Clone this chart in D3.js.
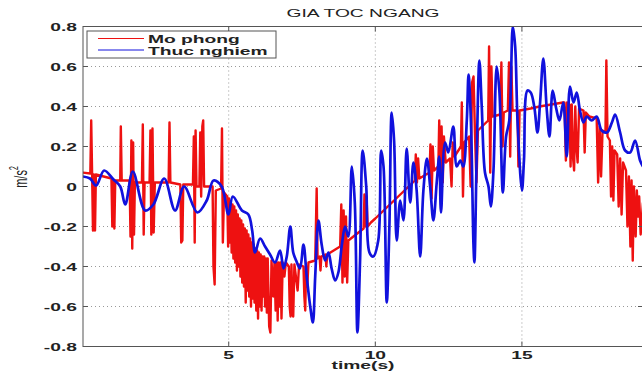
<!DOCTYPE html>
<html>
<head>
<meta charset="utf-8">
<script src="https://cdn.jsdelivr.net/npm/d3@7"></script>
<style>
  html, body { margin: 0; padding: 0; background: #fff; }
  svg { display: block; }
  text { font-family: "Liberation Sans", Arial, sans-serif; fill: #222; }
</style>
</head>
<body>
<div id="chart"></div>
<script>
// chart values
const title = "GIA TOC NGANG";
const xLabel = "time(s)";
const seriesNames = ["Mo phong", "Thuc nghiem"];
const xTicks = [5, 10, 15];
const yTicks = [-0.8, -0.6, -0.4, -0.2, 0, 0.2, 0.4, 0.6, 0.8];
const yTickLabels = ["-0.8", "-0.6", "-0.4", "-0.2", "0", "0.2", "0.4", "0.6", "0.8"];

// Mo phong (simulation): [time, value], baseline with spikes
const moPhong = [
  [0.00, 0.07], [0.28, 0.065], [0.31, 0.33], [0.34, 0.07], [0.37, -0.22], [0.40, 0.06], [0.44, -0.22], [0.47, 0.06],
  [1.00, 0.04], [1.03, -0.20], [1.06, 0.035], [1.10, -0.21], [1.13, 0.03], [1.30, 0.03], [1.32, 0.30], [1.35, 0.03],
  [1.62, 0.03], [1.65, -0.25], [1.68, 0.23], [1.71, -0.31], [1.74, 0.22], [1.77, -0.24], [1.80, 0.02],
  [2.04, 0.02], [2.07, 0.31], [2.10, -0.24], [2.13, 0.02], [2.30, 0.02], [2.33, 0.28], [2.36, -0.24], [2.40, 0.29],
  [2.44, -0.23], [2.48, 0.02], [2.95, 0.02], [2.98, 0.32], [3.01, 0.02], [3.35, 0.01], [3.38, -0.28], [3.42, -0.27],
  [3.45, 0.01], [3.78, 0.01], [3.81, 0.25], [3.84, -0.28], [3.87, 0.28], [3.90, 0.0], [4.00, 0.0], [4.03, 0.27],
  [4.06, -0.05], [4.10, 0.30], [4.13, 0.33], [4.16, 0.0], [4.45, 0.0], [4.48, -0.40], [4.52, -0.49], [4.56, -0.02],
  [4.74, -0.01], [4.77, 0.29], [4.80, -0.28], [4.84, -0.03],
  [4.95, -0.05], [4.98, -0.30], [5.01, -0.06], [5.04, -0.28], [5.07, -0.08], [5.10, -0.33], [5.13, -0.09], [5.16, -0.36],
  [5.19, -0.10], [5.22, -0.38], [5.25, -0.12], [5.28, -0.42], [5.31, -0.14], [5.34, -0.40], [5.37, -0.16], [5.40, -0.45],
  [5.43, -0.17], [5.46, -0.48], [5.49, -0.19], [5.52, -0.50], [5.55, -0.21], [5.58, -0.58], [5.61, -0.22], [5.64, -0.52],
  [5.67, -0.24], [5.70, -0.55], [5.73, -0.26], [5.76, -0.60], [5.79, -0.28], [5.82, -0.56], [5.85, -0.29], [5.88, -0.58],
  [5.91, -0.31], [5.94, -0.62], [5.97, -0.32], [6.00, -0.66], [6.03, -0.33], [6.06, -0.60], [6.09, -0.34], [6.12, -0.62],
  [6.15, -0.35], [6.18, -0.55], [6.21, -0.35], [6.24, -0.60], [6.27, -0.36], [6.30, -0.63], [6.33, -0.36], [6.38, -0.70],
  [6.42, -0.73], [6.46, -0.37], [6.52, -0.55], [6.56, -0.38], [6.60, -0.62], [6.64, -0.38], [6.67, -0.67], [6.70, -0.38],
  [6.74, -0.60], [6.77, -0.38], [6.80, -0.66], [6.84, -0.38], [6.90, -0.45], [6.95, -0.38], [7.05, -0.40], [7.08, -0.60],
  [7.11, -0.65], [7.14, -0.39], [7.17, -0.62], [7.20, -0.65], [7.24, -0.39], [7.35, -0.52], [7.40, -0.39], [7.55, -0.40],
  [7.58, -0.55], [7.61, -0.62], [7.64, -0.40], [7.68, -0.50], [7.72, -0.38], [7.95, -0.37], [8.00, -0.01], [8.03, -0.36],
  [8.10, -0.35], [8.13, -0.42], [8.16, -0.35], [8.30, -0.34], [8.33, -0.40], [8.36, -0.34], [8.80, -0.30], [8.84, -0.09],
  [8.88, -0.48], [8.92, -0.12], [8.96, -0.45], [9.00, -0.15], [9.04, -0.48], [9.08, -0.27], [9.60, -0.21], [9.63, -0.04],
  [9.67, -0.20], [9.70, -0.05], [9.74, -0.20], [9.85, -0.18], [10.00, -0.16], [11.35, 0.03], [11.38, 0.16], [11.42, 0.02],
  [11.46, 0.14], [11.50, 0.04], [11.85, 0.07], [11.88, 0.21], [11.92, -0.06], [11.96, 0.20], [12.00, 0.08], [12.15, 0.10],
  [12.18, 0.33], [12.22, 0.01], [12.26, 0.30], [12.30, 0.02], [12.34, 0.25], [12.40, 0.12], [12.55, 0.14], [12.60, 0.00],
  [12.64, 0.22], [12.70, 0.15], [12.92, 0.20], [12.95, 0.42], [12.99, -0.05], [13.03, 0.22], [13.20, 0.25], [13.25, 0.00],
  [13.30, 0.52], [13.35, 0.55], [13.40, 0.26], [13.45, 0.02], [13.50, 0.28], [13.85, 0.33], [13.88, 0.70], [13.92, 0.07],
  [13.96, 0.60], [14.00, 0.35], [14.26, 0.36], [14.30, 0.62], [14.34, 0.20], [14.38, 0.37], [14.52, 0.38], [14.56, 0.62],
  [14.60, 0.15], [14.64, 0.60], [14.68, 0.38], [14.85, 0.38], [14.88, 0.10], [14.92, 0.38], [15.30, 0.39], [15.60, 0.40],
  [16.00, 0.41], [16.40, 0.42], [16.45, 0.42], [16.50, 0.13], [16.54, 0.42], [16.62, 0.41], [16.66, 0.10], [16.70, 0.41],
  [16.74, 0.15], [16.78, 0.08], [16.82, 0.40], [16.86, 0.20], [16.90, 0.12], [16.95, 0.39], [17.10, 0.38], [17.14, 0.17],
  [17.18, 0.37], [17.30, 0.35], [17.55, 0.34], [17.60, 0.02], [17.65, 0.30], [17.70, 0.05], [17.75, 0.28], [17.85, 0.27],
  [17.88, 0.63], [17.92, 0.25], [18.00, 0.23], [18.04, -0.05], [18.08, 0.20], [18.12, -0.07], [18.16, 0.18], [18.25, 0.16],
  [18.30, -0.10], [18.35, 0.14], [18.40, -0.14], [18.45, 0.12], [18.55, 0.08], [18.60, -0.20], [18.65, 0.05], [18.70, -0.30],
  [18.74, 0.03], [18.78, -0.37], [18.82, 0.00], [18.88, -0.25], [18.92, -0.02], [18.96, -0.15], [19.00, -0.05], [19.05, -0.24],
  [19.13, -0.08]
];

// Thuc nghiem (measurement): [time, value]
const thucNghiem = [
  [0.03, 0.05], [0.27, 0.04], [0.48, 0.005], [0.75, 0.08], [1.07, 0.035], [1.30, 0.0], [1.47, -0.09], [1.73, 0.075],
  [2.15, -0.12], [2.43, -0.09], [2.80, 0.04], [3.17, -0.12], [3.48, 0.0], [3.93, -0.13], [4.25, -0.07], [4.48, 0.03],
  [4.76, 0.0], [4.99, -0.14], [5.14, -0.05], [5.45, -0.12], [5.67, -0.14], [5.80, -0.22], [5.90, -0.33], [6.07, -0.26],
  [6.24, -0.30], [6.41, -0.34], [6.58, -0.38], [6.75, -0.32], [6.87, -0.41], [6.98, -0.35], [7.10, -0.20], [7.20, -0.33],
  [7.30, -0.37], [7.43, -0.41], [7.55, -0.29], [7.66, -0.45], [7.78, -0.60], [7.87, -0.68], [7.95, -0.45], [8.06, -0.17],
  [8.17, -0.29], [8.29, -0.37], [8.40, -0.33], [8.51, -0.41], [8.63, -0.47], [8.74, -0.43], [8.86, -0.29], [8.97, -0.20],
  [9.08, -0.25], [9.20, 0.10], [9.30, -0.08], [9.39, -0.73], [9.48, -0.37], [9.57, 0.18], [9.69, 0.0], [9.80, -0.33],
  [9.93, -0.35], [10.10, -0.27], [10.20, 0.18], [10.28, 0.10], [10.39, -0.58], [10.48, -0.20], [10.56, 0.37], [10.64, 0.23],
  [10.73, -0.27], [10.85, -0.07], [10.96, -0.17], [11.07, 0.19], [11.19, -0.08], [11.30, 0.12], [11.41, -0.02], [11.53, -0.35],
  [11.64, -0.02], [11.76, 0.14], [11.87, 0.0], [11.98, -0.17], [12.10, 0.03], [12.18, 0.15], [12.24, -0.13], [12.38, 0.22],
  [12.49, 0.17], [12.66, 0.30], [12.78, 0.10], [12.90, 0.13], [13.00, 0.10], [13.12, 0.33], [13.18, 0.56], [13.26, 0.33],
  [13.35, -0.30], [13.38, -0.38], [13.46, 0.17], [13.55, 0.63], [13.63, 0.40], [13.74, 0.07], [13.86, 0.0], [13.94, -0.10],
  [14.03, 0.08], [14.14, 0.60], [14.23, 0.48], [14.35, -0.03], [14.46, 0.25], [14.57, 0.33], [14.69, 0.80], [14.77, 0.70],
  [14.85, 0.33], [15.00, -0.02], [15.07, 0.13], [15.19, 0.48], [15.30, 0.47], [15.42, 0.40], [15.53, 0.27], [15.62, 0.42],
  [15.73, 0.64], [15.85, 0.38], [15.94, 0.25], [16.05, 0.48], [16.17, 0.39], [16.28, 0.33], [16.41, 0.42], [16.53, 0.15],
  [16.64, 0.50], [16.76, 0.42], [16.87, 0.47], [16.98, 0.38], [17.10, 0.32], [17.21, 0.35], [17.38, 0.33], [17.55, 0.35],
  [17.72, 0.28], [17.90, 0.27], [18.07, 0.32], [18.18, 0.36], [18.35, 0.27], [18.52, 0.18], [18.69, 0.17], [18.86, 0.23],
  [19.03, 0.13], [19.13, 0.10]
];

const W = 642, H = 374;
const plot = { left: 83, right: 643, top: 26.5, bottom: 346.5 };
const stretch = 1.75; // the reference text is drawn wide

const x = d3.scaleLinear().domain([0.03, 19.13]).range([plot.left, plot.right]);
const y = d3.scaleLinear().domain([-0.8, 0.8]).range([plot.bottom, plot.top]);

const svg = d3.select("#chart").append("svg")
  .attr("width", W)
  .attr("height", H);

svg.append("defs").append("clipPath").attr("id", "plotClip")
  .append("rect")
  .attr("x", plot.left).attr("y", plot.top)
  .attr("width", plot.right - plot.left).attr("height", plot.bottom - plot.top);

// helper for the widened text
function wideText(g, px, py, str, opts) {
  const t = g.append("text")
    .attr("transform", `translate(${px},${py}) scale(${stretch},1)` + (opts.rotate ? ` rotate(${opts.rotate})` : ""))
    .attr("text-anchor", opts.anchor || "middle")
    .style("font-size", (opts.size || 11) + "px")
    .style("font-weight", opts.weight || "normal");
  if (str !== null) t.text(str);
  return t;
}

// grid
const grid = svg.append("g");
grid.selectAll(".gx").data(xTicks).enter().append("line")
  .attr("x1", d => x(d)).attr("x2", d => x(d))
  .attr("y1", plot.top).attr("y2", plot.bottom)
  .attr("stroke", "#999").attr("stroke-width", 1)
  .attr("stroke-dasharray", "1,3");
grid.selectAll(".gy").data(yTicks.slice(1, -1)).enter().append("line")
  .attr("x1", plot.left).attr("x2", plot.right)
  .attr("y1", d => y(d)).attr("y2", d => y(d))
  .attr("stroke", "#999").attr("stroke-width", 1)
  .attr("stroke-dasharray", "1,3");

// series
const lines = svg.append("g").attr("clip-path", "url(#plotClip)");
lines.append("path")
  .attr("d", d3.line().x(d => x(d[0])).y(d => y(d[1]))(moPhong))
  .attr("fill", "none")
  .attr("stroke", "#ee1111")
  .attr("stroke-width", 2.4)
  .attr("stroke-linejoin", "round");
lines.append("path")
  .attr("d", d3.line().x(d => x(d[0])).y(d => y(d[1])).curve(d3.curveCatmullRom.alpha(0.5))(thucNghiem))
  .attr("fill", "none")
  .attr("stroke", "#1111dd")
  .attr("stroke-width", 2.7)
  .attr("stroke-linejoin", "round");

// axes box and inner ticks
const ax = svg.append("g");
ax.append("rect")
  .attr("x", plot.left).attr("y", plot.top)
  .attr("width", plot.right - plot.left).attr("height", plot.bottom - plot.top)
  .attr("fill", "none").attr("stroke", "#555").attr("stroke-width", 1);
xTicks.forEach(d => {
  ax.append("line").attr("x1", x(d)).attr("x2", x(d)).attr("y1", plot.bottom).attr("y2", plot.bottom - 5).attr("stroke", "#555");
  ax.append("line").attr("x1", x(d)).attr("x2", x(d)).attr("y1", plot.top).attr("y2", plot.top + 5).attr("stroke", "#555");
});
yTicks.forEach(d => {
  ax.append("line").attr("x1", plot.left).attr("x2", plot.left + 5).attr("y1", y(d)).attr("y2", y(d)).attr("stroke", "#555");
  ax.append("line").attr("x1", plot.right - 5).attr("x2", plot.right).attr("y1", y(d)).attr("y2", y(d)).attr("stroke", "#555");
});

// tick labels
yTicks.forEach((d, i) => wideText(ax, 77, y(d) + 4, yTickLabels[i], { anchor: "end", weight: "bold" }));
xTicks.forEach(d => wideText(ax, x(d), 358.5, String(d), { weight: "bold" }));

// titles
wideText(svg, (plot.left + plot.right) / 2, 17.3, title, {});
wideText(svg, (plot.left + plot.right) / 2, 369, xLabel, { weight: "bold" });
const yl = wideText(svg, 27, 177, null, { rotate: -90 });
yl.append("tspan").text("m/s");
yl.append("tspan").attr("dy", -5).style("font-size", "7px").text("2");

// legend
const lg = svg.append("g");
lg.append("rect")
  .attr("x", 87).attr("y", 31).attr("width", 189).attr("height", 27)
  .attr("fill", "#fff").attr("stroke", "#555").attr("stroke-width", 1);
const legendColors = ["#ee1111", "#1111dd"];
seriesNames.forEach((name, i) => {
  const ly = 38.5 + i * 11.5;
  lg.append("line").attr("x1", 98).attr("x2", 144).attr("y1", ly).attr("y2", ly)
    .attr("stroke", legendColors[i]).attr("stroke-width", 1);
  wideText(lg, 148, ly + 4.5, name, { anchor: "start", weight: "bold" });
});
</script>
</body>
</html>
